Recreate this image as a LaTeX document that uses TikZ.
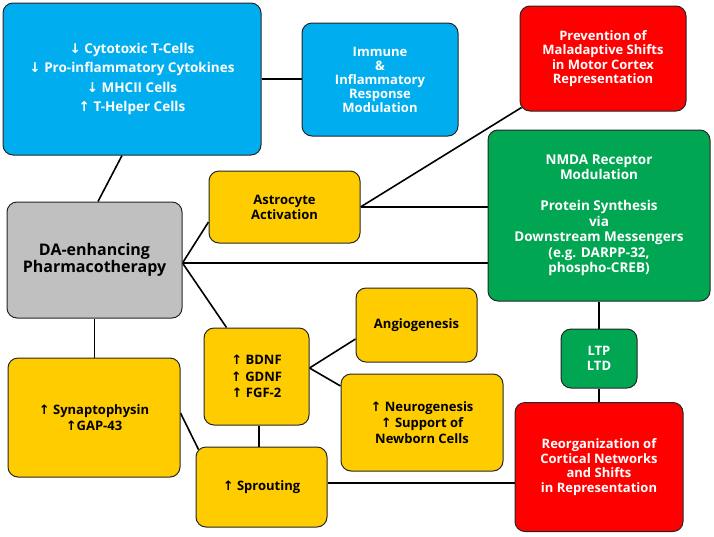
\documentclass[tikz,border=0pt]{standalone}
\usepackage{fontspec}
\setmainfont{Open Sans}
\newfontfamily\symfont{DejaVu Sans}
\usetikzlibrary{backgrounds}
\definecolor{boxblue}{RGB}{0,174,239}
\definecolor{boxred}{RGB}{255,0,0}
\definecolor{boxgreen}{RGB}{0,166,81}
\definecolor{boxyellow}{RGB}{255,204,0}
\definecolor{boxgray}{RGB}{192,192,192}
\newcommand{\up}{{\symfont\char"2191}}
\newcommand{\dn}{{\symfont\char"2193}}
\newcommand{\fs}[2]{\fontsize{#1}{#2}\selectfont}

\begin{document}
\begin{tikzpicture}[x = 1pt, y = -1pt,
		box/.style = {draw = black!85, line width = 1pt, rounded corners = 10pt, align = center, inner sep = 0pt, font = \bfseries\fs{13}{15}},
		bluebox/.style = {box, fill = boxblue, text = white},
		redbox/.style = {box, fill = boxred, text = white},
		greenbox/.style = {box, fill = boxgreen, text = white},
		yellowbox/.style = {box, fill = boxyellow, text = black},
		graybox/.style = {box, fill = boxgray, text = black},
		link/.style = {line width = 1.6pt, black}]
	\useasboundingbox (0, 0) rectangle (714, 536);
	% immune side
	\node[bluebox, minimum width = 258, minimum height = 152, font = \bfseries\fs{13.5}{19.5}] (cells) at (132, 79)
		{\dn{} Cytotoxic T-Cells\\\dn{} Pro-inflammatory Cytokines\\\dn{} MHCII Cells\\\up{} T-Helper Cells};
	\node[bluebox, minimum width = 156, minimum height = 113, font = \bfseries\fs{13}{14}] (immune) at (380, 79.5)
		{Immune\\\&\\Inflammatory\\Response\\Modulation};
	% red boxes
	\node[redbox, minimum width = 166, minimum height = 105, font = \bfseries\fs{13}{14.5}] (prevent) at (603, 58.5)
		{Prevention of\\Maladaptive Shifts\\in Motor Cortex\\Representation};
	\node[redbox, minimum width = 168, minimum height = 129, font = \bfseries\fs{13}{14.5}] (reorg) at (599, 467)
		{Reorganization of\\Cortical Networks\\and Shifts\\in Representation};
	% green boxes
	\node[greenbox, minimum width = 222, minimum height = 171, font = \bfseries\fs{13.5}{15.5}] (nmda) at (599, 215.5)
		{NMDA Receptor\\Modulation\\[15.5pt]Protein Synthesis\\via\\Downstream Messengers\\(e.g. DARPP-32,\\phospho-CREB)};
	\node[greenbox, minimum width = 76, minimum height = 59, font = \bfseries\fs{13}{15.5}] (ltp) at (599, 358.5) {LTP\\LTD};
	% the drug
	\node[graybox, minimum width = 175, minimum height = 116, font = \bfseries\fs{16}{17.5}] (da) at (94.5, 260)
		{DA-enhancing\\Pharmacotherapy};
	% yellow boxes
	\node[yellowbox, minimum width = 151, minimum height = 72] (astro) at (284.5, 207) {Astrocyte\\Activation};
	\node[yellowbox, minimum width = 105, minimum height = 97, font = \bfseries\fs{13}{16.5}] (growth) at (256.5, 376.5)
		{\up{} BDNF\\\up{} GDNF\\\up{} FGF-2};
	\node[yellowbox, minimum width = 121, minimum height = 74] (angio) at (416.5, 325) {Angiogenesis};
	\node[yellowbox, minimum width = 162, minimum height = 97, font = \bfseries\fs{13}{16}] (neuro) at (422, 422.5)
		{\up{} Neurogenesis\\\up{} Support of\\Newborn Cells};
	\node[yellowbox, minimum width = 131, minimum height = 80] (sprout) at (261.5, 487) {\up{} Sprouting};
	\node[yellowbox, minimum width = 172, minimum height = 119, font = \bfseries\fs{13}{16}] (synapt) at (94, 417.5)
		{\up{} Synaptophysin\\\up GAP-43};
	% connectors
	\begin{scope}[on background layer]
		\coordinate (hub) at ([yshift = -3pt]da.east);
		\draw[link] (cells.east) -- (cells.east -| immune.west);
		\draw[link] ([xshift = -10pt]cells.south) -- ([xshift = 3.5pt]da.north);
		\draw[link] (hub) -- ([yshift = -15pt]astro.west);
		\draw[link] (hub) -- (hub -| nmda.west);
		\draw[link] (hub) -- ([xshift = -30pt]growth.north);
		\draw[link] (da.south) -- (da.south |- synapt.north);
		\draw[link] (astro.east) -- (astro.east -| nmda.west);
		\draw[link] (astro.east) -- ([shift = {(2pt, 4pt)}]prevent.south west);
		\draw[link] ([yshift = 8.5pt]growth.east) -- ([yshift = -14pt]angio.west);
		\draw[link] ([yshift = 8.5pt]growth.east) -- ([yshift = 36.5pt]neuro.west);
		\draw[link] ([xshift = 2.5pt]growth.south) -- ([xshift = 2.5pt]growth.south |- sprout.north);
		\draw[link] ([yshift = 4.5pt]synapt.east) -- ([shift = {(3pt, -3pt)}]sprout.north west);
		\draw[link] ([yshift = 4pt]sprout.east) -- ([yshift = 4pt]sprout.east -| reorg.west);
		\draw[link] (nmda.south) -- (ltp.north);
		\draw[link] (ltp.south) -- (reorg.north);
	\end{scope}
\end{tikzpicture}
\end{document}
